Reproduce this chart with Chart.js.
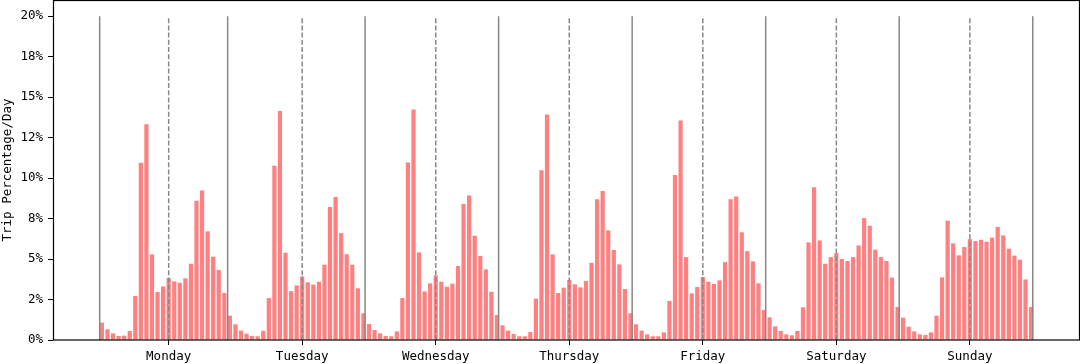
<!DOCTYPE html>
<html><head><meta charset="utf-8">
<script src="https://cdn.jsdelivr.net/npm/chart.js@4/dist/chart.umd.min.js"></script>
<style>html,body{margin:0;padding:0;background:#fff;overflow:hidden}#wrap{width:1080px;height:364px}</style>
</head><body><div id="wrap"><canvas id="c" width="1080" height="364"></canvas></div>
<script>
const days = ["Monday","Tuesday","Wednesday","Thursday","Friday","Saturday","Sunday"];
const monday    = [1.07,0.66,0.41,0.25,0.27,0.56,2.72,10.95,13.33,5.29,2.96,3.31,3.83,3.62,3.54,3.81,4.71,8.60,9.24,6.71,5.14,4.32,2.90,1.50];
const tuesday   = [0.97,0.58,0.39,0.25,0.23,0.56,2.59,10.76,14.14,5.39,3.02,3.37,3.93,3.56,3.42,3.60,4.65,8.21,8.83,6.60,5.30,4.65,3.19,1.65];
const wednesday = [0.99,0.62,0.41,0.25,0.23,0.53,2.59,10.97,14.24,5.41,3.00,3.50,3.99,3.60,3.29,3.48,4.57,8.40,8.93,6.44,5.19,4.36,2.98,1.54];
const thursday  = [0.91,0.58,0.37,0.23,0.23,0.49,2.55,10.49,13.93,5.29,2.90,3.23,3.70,3.44,3.25,3.64,4.77,8.70,9.20,6.77,5.56,4.67,3.15,1.65];
const friday    = [0.97,0.58,0.35,0.23,0.23,0.47,2.41,10.19,13.56,5.12,2.88,3.27,3.89,3.60,3.46,3.68,4.81,8.70,8.87,6.65,5.49,4.86,3.50,1.85];
const saturday  = [1.40,0.84,0.56,0.35,0.29,0.56,2.02,6.03,9.44,6.15,4.71,5.12,5.37,5.00,4.88,5.12,5.84,7.53,7.06,5.58,5.12,4.88,3.85,2.04];
const sunday    = [1.38,0.82,0.53,0.35,0.31,0.47,1.50,3.87,7.37,5.97,5.23,5.74,6.23,6.11,6.19,6.07,6.32,6.98,6.46,5.64,5.21,4.96,3.74,2.04];
const yTickValues = [0,2.5,5,7.5,10,12.5,15,17.5,20];
const yTickLabels = ["0%","2%","5%","8%","10%","12%","15%","18%","20%"];
const noonHours = [12,36,60,84,108,132,156];
const dayBoundaries = [-0.4,22.6,47.3,71.3,95.3,119.3,143.3,167.3];
const yTitle = "Trip Percentage/Day";

const allValues = [].concat(monday,tuesday,wednesday,thursday,friday,saturday,sunday);
const points = allValues.map((v,i)=>({x:i,y:v}));
const FONT = "'DejaVu Sans Mono', monospace";

const refLines = {
  id:'refLines',
  afterDatasetsDraw(chart){
    const ctx = chart.ctx, xs = chart.scales.x, ys = chart.scales.y;
    const y0 = ys.getPixelForValue(0), y1 = ys.getPixelForValue(20);
    ctx.save();
    ctx.strokeStyle = '#888888'; ctx.lineWidth = 1.5;
    dayBoundaries.forEach(v=>{const px=xs.getPixelForValue(v);ctx.beginPath();ctx.moveTo(px,y0);ctx.lineTo(px,y1);ctx.stroke();});
    ctx.setLineDash([5,2.2]);
    noonHours.forEach(v=>{const px=xs.getPixelForValue(v);ctx.beginPath();ctx.moveTo(px,y0);ctx.lineTo(px,y1);ctx.stroke();});
    ctx.restore();
    const a = chart.chartArea;
    ctx.save(); ctx.strokeStyle='#000'; ctx.lineWidth=1.2;
    ctx.strokeRect(a.left+0.5, a.top+0.5, a.right-a.left-1, a.bottom-a.top-0.5);
    ctx.restore();
  }
};

new Chart(document.getElementById('c'), {
  type:'bar',
  data:{datasets:[{data:points, backgroundColor:'#ff8080', borderWidth:0, barPercentage:0.76, categoryPercentage:1}]},
  options:{
    responsive:false, animation:false, devicePixelRatio:1,
    layout:{padding:{left:0,right:0,top:0,bottom:0}},
    plugins:{legend:{display:false}, tooltip:{enabled:false}},
    scales:{
      x:{type:'linear', min:-8.79, max:175.79, offset:false,
        grid:{offset:false, drawOnChartArea:false, drawTicks:true, tickLength:5, color:'#000', lineWidth:1},
        border:{display:false},
        afterBuildTicks(s){ s.ticks = noonHours.map(v=>({value:v})); },
        afterFit(s){ s.height = 24; s.paddingLeft = 0; s.paddingRight = 0; },
        ticks:{autoSkip:false, maxRotation:0, padding:4, color:'#000', font:{family:FONT,size:12.5},
          callback:(v,i)=>days[i]}
      },
      y:{type:'linear', min:0, max:21,
        grid:{drawOnChartArea:false, drawTicks:true, tickLength:5, color:'#000', lineWidth:1},
        border:{display:false},
        afterBuildTicks(s){ s.ticks = yTickValues.map(v=>({value:v})); },
        afterFit(s){ s.width = 53; s.paddingTop = 0; s.paddingBottom = 0; },
        ticks:{padding:5, color:'#000', font:{family:FONT,size:12.5}, callback:(v,i)=>yTickLabels[i]},
        title:{display:true, text:yTitle, color:'#000', font:{family:FONT,size:12.5}, padding:{top:0,bottom:0}}
      }
    }
  },
  plugins:[refLines]
});
</script></body></html>
